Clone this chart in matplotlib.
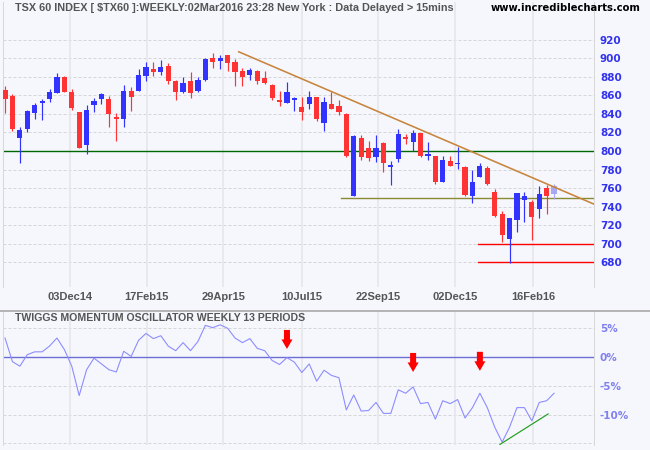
import matplotlib
matplotlib.use('Agg')
import matplotlib.pyplot as plt
import numpy as np
from matplotlib.lines import Line2D
from matplotlib.patches import Polygon

# ---------------- data ----------------
opens = [865.8, 859.3, 814.2, 823.6, 841.0, 852.0, 856.0, 862.9, 879.8, 863.6,
         841.6, 806.3, 849.9, 856.4, 856.0, 836.6, 834.8, 864.7, 864.7, 880.5,
         888.0, 885.2, 891.3, 875.1, 863.2, 875.1, 864.2, 876.2, 900.0, 896.7,
         903.2, 895.6, 885.9, 881.6, 885.9, 878.3, 870.8, 854.5, 852.3, 855.5,
         847.9, 850.5, 857.7, 829.9, 851.2, 849.0, 840.4, 751.0, 814.4, 803.6,
         793.5, 809.0, 782.7, 791.4, 814.4, 809.9, 819.8, 794.6, 794.6, 766.5,
         789.2, 785.6, 782.7, 751.4, 771.9, 781.6, 755.7, 732.0, 705.0, 725.5,
         747.1, 744.9, 737.4, 760.0, 753.6]
highs = [869.7, 861.4, 825.4, 844.5, 851.7, 856.0, 866.8, 884.1, 880.9, 866.8,
         842.3, 849.5, 857.1, 862.9, 859.3, 840.9, 871.2, 868.6, 888.5, 895.6,
         895.6, 897.8, 894.5, 876.2, 879.4, 884.8, 879.4, 900.0, 905.4, 903.2,
         903.2, 898.9, 889.1, 889.1, 887.0, 885.9, 871.9, 864.3, 873.9, 857.7,
         857.7, 865.2, 858.7, 858.7, 864.1, 855.5, 841.4, 817.7, 817.7, 811.2,
         817.7, 810.1, 789.2, 824.1, 818.7, 823.0, 819.8, 809.7, 794.6, 794.6,
         794.6, 804.3, 783.8, 779.5, 787.0, 783.8, 759.0, 735.2, 727.6, 754.6,
         755.7, 747.1, 762.2, 763.3, 764.4]
lows = [841.0, 821.4, 787.0, 820.0, 834.4, 833.7, 853.2, 862.9, 863.6, 844.1,
        803.4, 796.9, 842.3, 850.6, 825.8, 810.6, 825.8, 843.0, 864.7, 875.1,
        880.5, 882.0, 872.2, 854.9, 862.5, 857.1, 863.6, 875.1, 889.1, 888.0,
        885.9, 869.7, 869.7, 876.5, 871.9, 871.9, 854.5, 848.4, 852.3, 843.6,
        833.9, 845.0, 832.8, 822.0, 845.8, 839.3, 793.5, 751.0, 790.3, 789.2,
        788.1, 777.3, 763.2, 788.1, 807.6, 800.0, 793.5, 790.3, 764.7, 766.5,
        783.8, 780.6, 751.4, 743.8, 771.9, 763.3, 728.7, 702.1, 678.7, 712.5,
        723.3, 703.9, 727.6, 732.0, 748.2]
closes = [856.0, 823.6, 822.5, 843.0, 849.5, 853.2, 863.6, 879.8, 863.6, 846.3,
          803.4, 844.5, 854.2, 861.4, 839.8, 834.8, 864.7, 858.2, 882.0, 890.3,
          885.2, 890.3, 875.1, 863.6, 873.3, 862.1, 876.2, 898.9, 895.6, 900.0,
          894.5, 884.8, 879.4, 887.0, 875.1, 872.9, 857.4, 852.7, 863.1, 856.2,
          842.5, 858.7, 835.0, 853.3, 845.8, 842.5, 794.6, 816.6, 793.5, 792.4,
          803.6, 787.0, 783.8, 818.7, 813.3, 819.8, 794.6, 795.0, 766.5, 790.3,
          783.8, 786.0, 752.5, 766.5, 783.8, 764.4, 729.8, 709.3, 727.6, 754.6,
          751.4, 728.7, 753.6, 751.4, 762.2]
momentum = [3.3, -0.8, -1.6, 0.4, 0.9, 0.9, 1.9, 3.3, 1.3, -1.6,
            -6.7, -2.2, -0.2, -1.2, -2.2, -2.6, 1.0, 0.1, 2.9, 4.1,
            3.2, 3.7, 1.9, 1.1, 2.5, 1.1, 2.7, 5.5, 5.1, 5.6,
            5.0, 3.3, 2.5, 3.2, 1.5, 1.1, -0.6, -1.3, -0.1, -0.9,
            -2.7, -1.2, -4.2, -2.3, -3.2, -3.6, -9.2, -6.6, -9.4, -9.3,
            -7.9, -9.8, -9.8, -5.7, -6.3, -5.2, -8.1, -7.9, -10.8, -7.6,
            -8.1, -7.4, -10.6, -8.8, -6.3, -8.8, -12.2, -14.8, -12.2, -8.8,
            -8.8, -11.1, -7.9, -7.6, -6.3]

date_labels = ['03Dec14', '17Feb15', '29Apr15', '10Jul15', '22Sep15', '02Dec15', '16Feb16']
date_ticks = [8.76, 19.1, 29.4, 40.0, 50.3, 60.6, 71.2]
price_ticks = [680, 700, 720, 740, 760, 780, 800, 820, 840, 860, 880, 900, 920]
osc_ticks = [5, 0, -5, -10]
osc_grid = [5, -5, -10, -15]

# annotation lines (x index, value)
trend_x = [31.5, 79.4]
trend_y = [907.0, 742.6]
support_level = 749.5
support_start = 45.3
resistance_level = 800
low_levels = [700, 680]
low_start = 63.7
osc_trend_x = [66.7, 73.2]
osc_trend_y = [-15.2, -9.9]
arrow_x = [38, 55, 64]
arrow_tip = [1.4, -2.6, -2.4]

title = 'TSX 60 INDEX [ $TX60 ]:WEEKLY:02Mar2016 23:28 New York : Data Delayed > 15mins'
site = 'www.incrediblecharts.com'
osc_title = 'TWIGGS MOMENTUM OSCILLATOR WEEKLY 13 PERIODS'

# ---------------- style ----------------
BG = '#f6f7fd'
RED = '#ff3333'
BLUE = '#3333ff'
LAST = '#a8a8f4'
GRID = '#d6d6d6'
VGRID = '#e6e6ea'
W, H = 650, 450
PX = 72.0 / 100.0  # points per pixel

fig = plt.figure(figsize=(6.5, 4.5), dpi=100, facecolor=BG)


def fx(p):
    return p / W


def fy(p):
    return 1 - p / H


XSTEP = 7.42  # px per week
x_left = (3 - 5) / XSTEP
x_right = (594 - 5) / XSTEP

# ---------------- price panel ----------------
ax = fig.add_axes([fx(3), fy(287), fx(594) - fx(3), fy(2) - fy(287)])
ax.set_facecolor(BG)
ax.set_xlim(x_left, x_right)
ax.set_ylim(653.3, 960.7)
ypx = (287 - 2) / (960.7 - 653.3)  # px per unit

for t in price_ticks:
    ax.axhline(t, color=GRID, lw=1 * PX, ls=(0, (3, 2)), zorder=0)
for t in date_ticks:
    ax.axvline(t, color=VGRID, lw=1.6 * PX, zorder=0)

n = len(opens)
idx = np.arange(n)
for i in range(n):
    o, h, l, c = opens[i], highs[i], lows[i], closes[i]
    col = RED if c < o else BLUE
    if i == n - 1:
        col = LAST
    ax.vlines(i, l, h, color=col, lw=1.2 * PX, zorder=3)
    hgt = max(abs(c - o), 1.6 / ypx)
    ax.bar(i, hgt, bottom=min(o, c), width=5.2 / XSTEP, color=col, lw=0, zorder=3)

ax.axhline(resistance_level, color='#006600', lw=1.4 * PX, zorder=2)
ax.plot([support_start, x_right], [support_level] * 2, color='#8a8a33', lw=1.4 * PX, zorder=2)
for lv in low_levels:
    ax.plot([low_start, x_right], [lv, lv], color='#ff0000', lw=1.4 * PX, zorder=2)
ax.plot(trend_x, trend_y, color='#c8843c', lw=1.6 * PX, zorder=4)

ax.yaxis.tick_right()
ax.set_yticks(price_ticks)
ax.set_yticklabels([str(t) for t in price_ticks], fontsize=7.5, fontweight='bold',
                   color='#3333ee', family='DejaVu Sans')
ax.tick_params(axis='y', length=0, pad=6 * PX)
ax.set_xticks(date_ticks)
ax.set_xticklabels(date_labels, fontsize=8, fontweight='bold', color='#555555',
                   family='Liberation Sans')
ax.tick_params(axis='x', length=0, pad=5 * PX)
for s in ['top', 'bottom']:
    ax.spines[s].set_visible(False)
for s in ['left', 'right']:
    ax.spines[s].set_color('#d8d8d8')
    ax.spines[s].set_linewidth(1 * PX)

# ---------------- oscillator panel ----------------
ax2 = fig.add_axes([fx(3), fy(445), fx(594) - fx(3), fy(311) - fy(445)])
ax2.set_facecolor(BG)
ax2.set_xlim(x_left, x_right)
ax2.set_ylim(-15.3, 8.0)
oypx = (445 - 311) / (8.0 + 15.3)

for t in osc_grid:
    ax2.axhline(t, color=GRID, lw=1 * PX, ls=(0, (3, 2)), zorder=0)
for t in date_ticks:
    ax2.axvline(t, color=VGRID, lw=1.6 * PX, zorder=0)
ax2.axhline(0, color='#6e6ed2', lw=1.4 * PX, zorder=2)
ax2.plot(idx, momentum, color='#8c8cff', lw=1.1 * PX, zorder=3)
ax2.plot(osc_trend_x, osc_trend_y, color='#22a022', lw=1.2 * PX, zorder=3)

# red arrows
sw, hw = 3.0 / XSTEP, 5.5 / XSTEP
sh, hh = 9.5 / oypx, 9.5 / oypx
for xa, ta in zip(arrow_x, arrow_tip):
    pts = [(xa - sw, ta + hh + sh), (xa + sw, ta + hh + sh), (xa + sw, ta + hh),
           (xa + hw, ta + hh), (xa, ta), (xa - hw, ta + hh), (xa - sw, ta + hh)]
    ax2.add_patch(Polygon(pts, closed=True, color='#ff0000', lw=0, zorder=5))

ax2.yaxis.tick_right()
ax2.set_yticks(osc_ticks)
ax2.set_yticklabels([f'{t}%' for t in osc_ticks], fontsize=7.5, fontweight='bold',
                    color='#8080ee', family='DejaVu Sans')
ax2.tick_params(axis='y', length=0, pad=6 * PX)
ax2.set_xticks([])
for s in ['top', 'bottom']:
    ax2.spines[s].set_visible(False)
for s in ['left', 'right']:
    ax2.spines[s].set_color('#d8d8d8')
    ax2.spines[s].set_linewidth(1 * PX)

# separator
fig.add_artist(Line2D([0, 1], [fy(311), fy(311)], transform=fig.transFigure,
                      color='#a0a0a0', lw=1.5 * PX))

# texts
fig.text(fx(15), fy(8), title, fontsize=7.8, fontweight='bold', color='#555555',
         family='Liberation Sans', ha='left', va='center')
fig.text(fx(641), fy(8), site, fontsize=7.2, fontweight='bold', color='#000000',
         family='DejaVu Sans', ha='right', va='center')
fig.text(fx(15), fy(318), osc_title, fontsize=7.6, fontweight='bold', color='#555555',
         family='Liberation Sans', ha='left', va='center')

fig.savefig('out.png', dpi=100, facecolor=BG)
